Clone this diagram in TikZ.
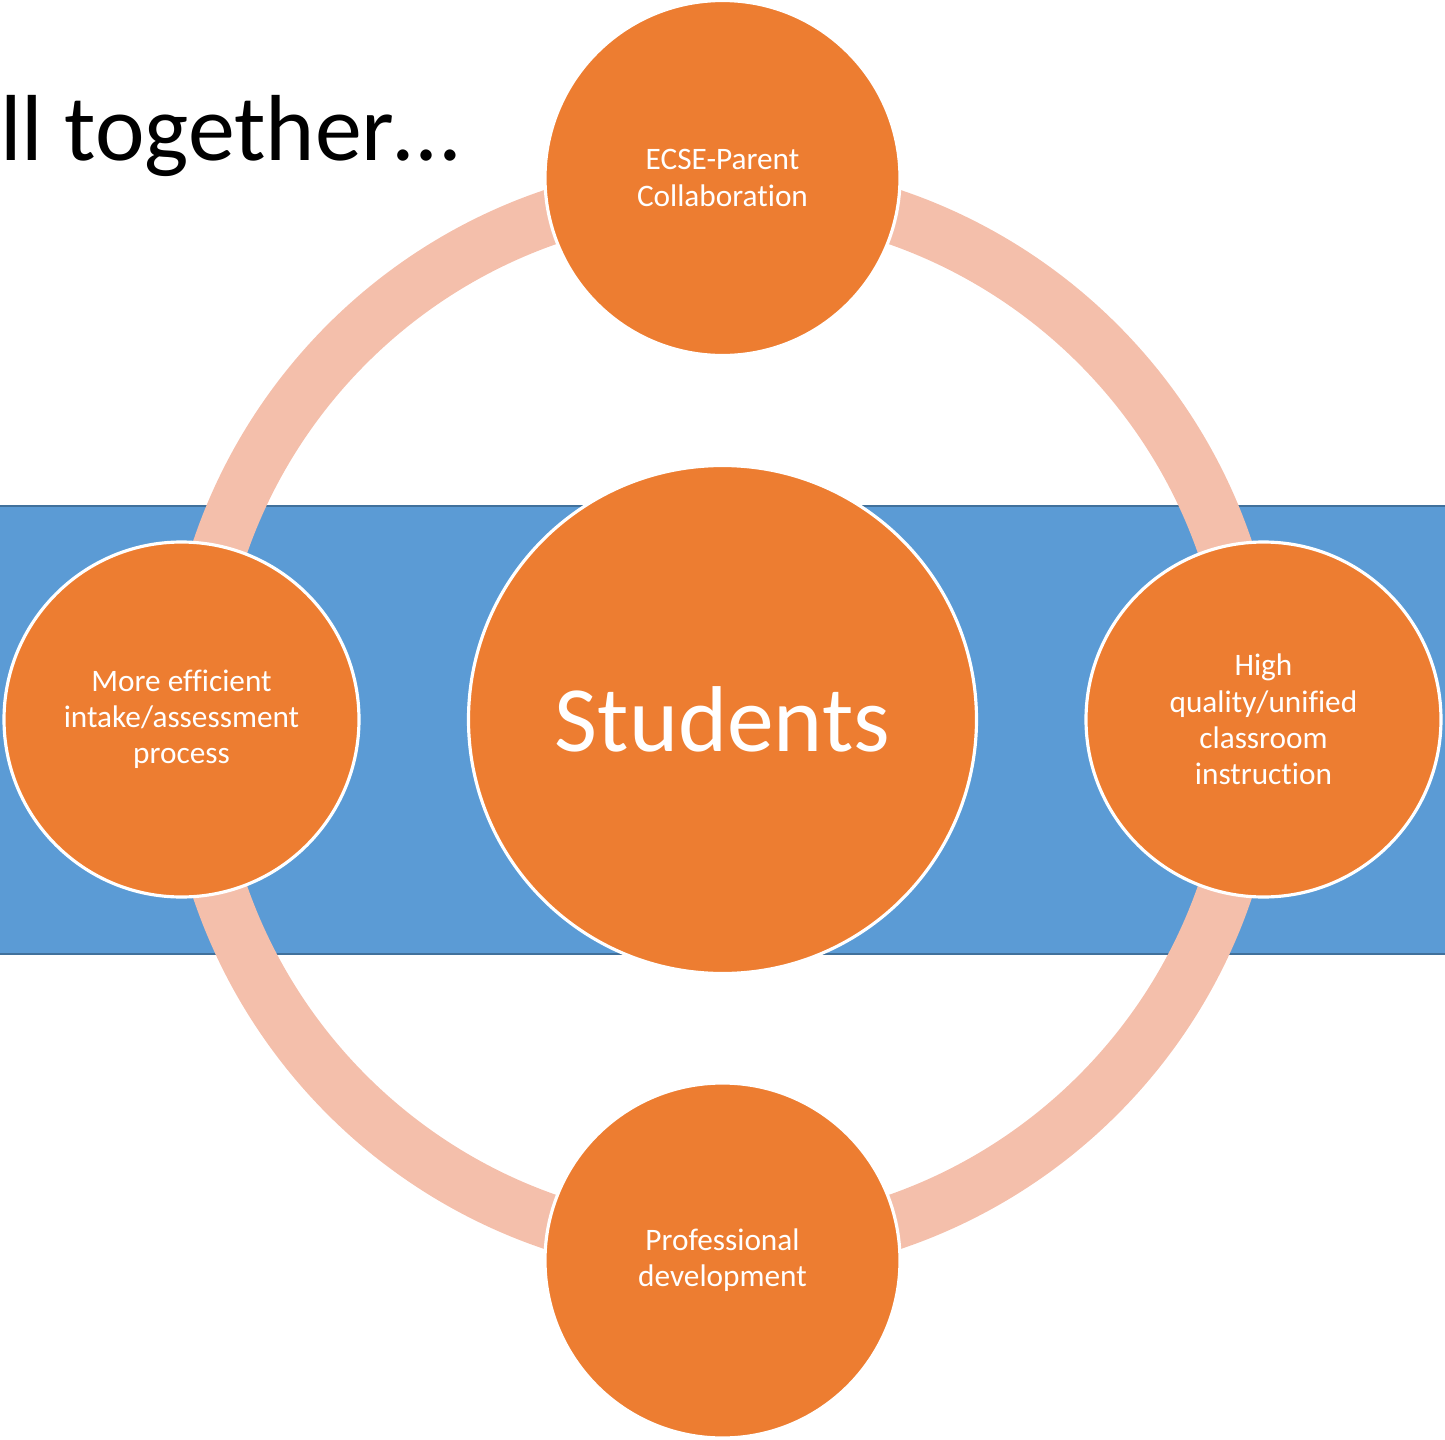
\documentclass[tikz,border=0pt]{standalone}
\usepackage{fontspec}
\setmainfont{Carlito}[RawFeature=-liga]
\definecolor{nodeorange}{HTML}{ED7D31}
\definecolor{bandblue}{HTML}{5B9BD5}
\definecolor{bandedge}{HTML}{41719C}
\definecolor{ringpink}{HTML}{F4BFAB}

\begin{document}
\begin{tikzpicture}[
    sat/.style={circle,fill=nodeorange,draw=white,line width=0.9pt,minimum size=3.55cm,
        text=white,align=center,font=\fontsize{8.9}{10.3}\selectfont},
    hub/.style={circle,fill=nodeorange,draw=white,line width=0.9pt,minimum size=5.08cm,
        text=white,font=\fontsize{26.6}{32}\selectfont}]
    \useasboundingbox (0,0) rectangle (14.45,-14.40);
    % band behind everything
    \fill[bandblue] (0,-5.06) rectangle (14.45,-9.54);
    \draw[bandedge,line width=0.6pt] (0,-5.06) -- (14.45,-5.06) (0,-9.54) -- (14.45,-9.54);
    \coordinate (mid) at (7.225,-7.195);
    \draw[ringpink,line width=0.55cm] (mid) circle (5.31);
    \node[hub] (S) at (mid) {Students};
    \node[sat] (T) at (7.225,-1.78) {ECSE-Parent\\Collaboration};
    \node[sat] (R) at (12.635,-7.195) {High\\quality/unified\\classroom\\instruction};
    \node[sat] (B) at (7.225,-12.605) {Professional\\development};
    \node[sat] (L) at (1.815,-7.195) {More efficient\\intake/assessment\\process};
    \node[anchor=base east,font=\fontsize{26.7}{32}\selectfont,inner sep=0pt] (title) at (4.60,-1.60) {ll together…};
\end{tikzpicture}
\end{document}
